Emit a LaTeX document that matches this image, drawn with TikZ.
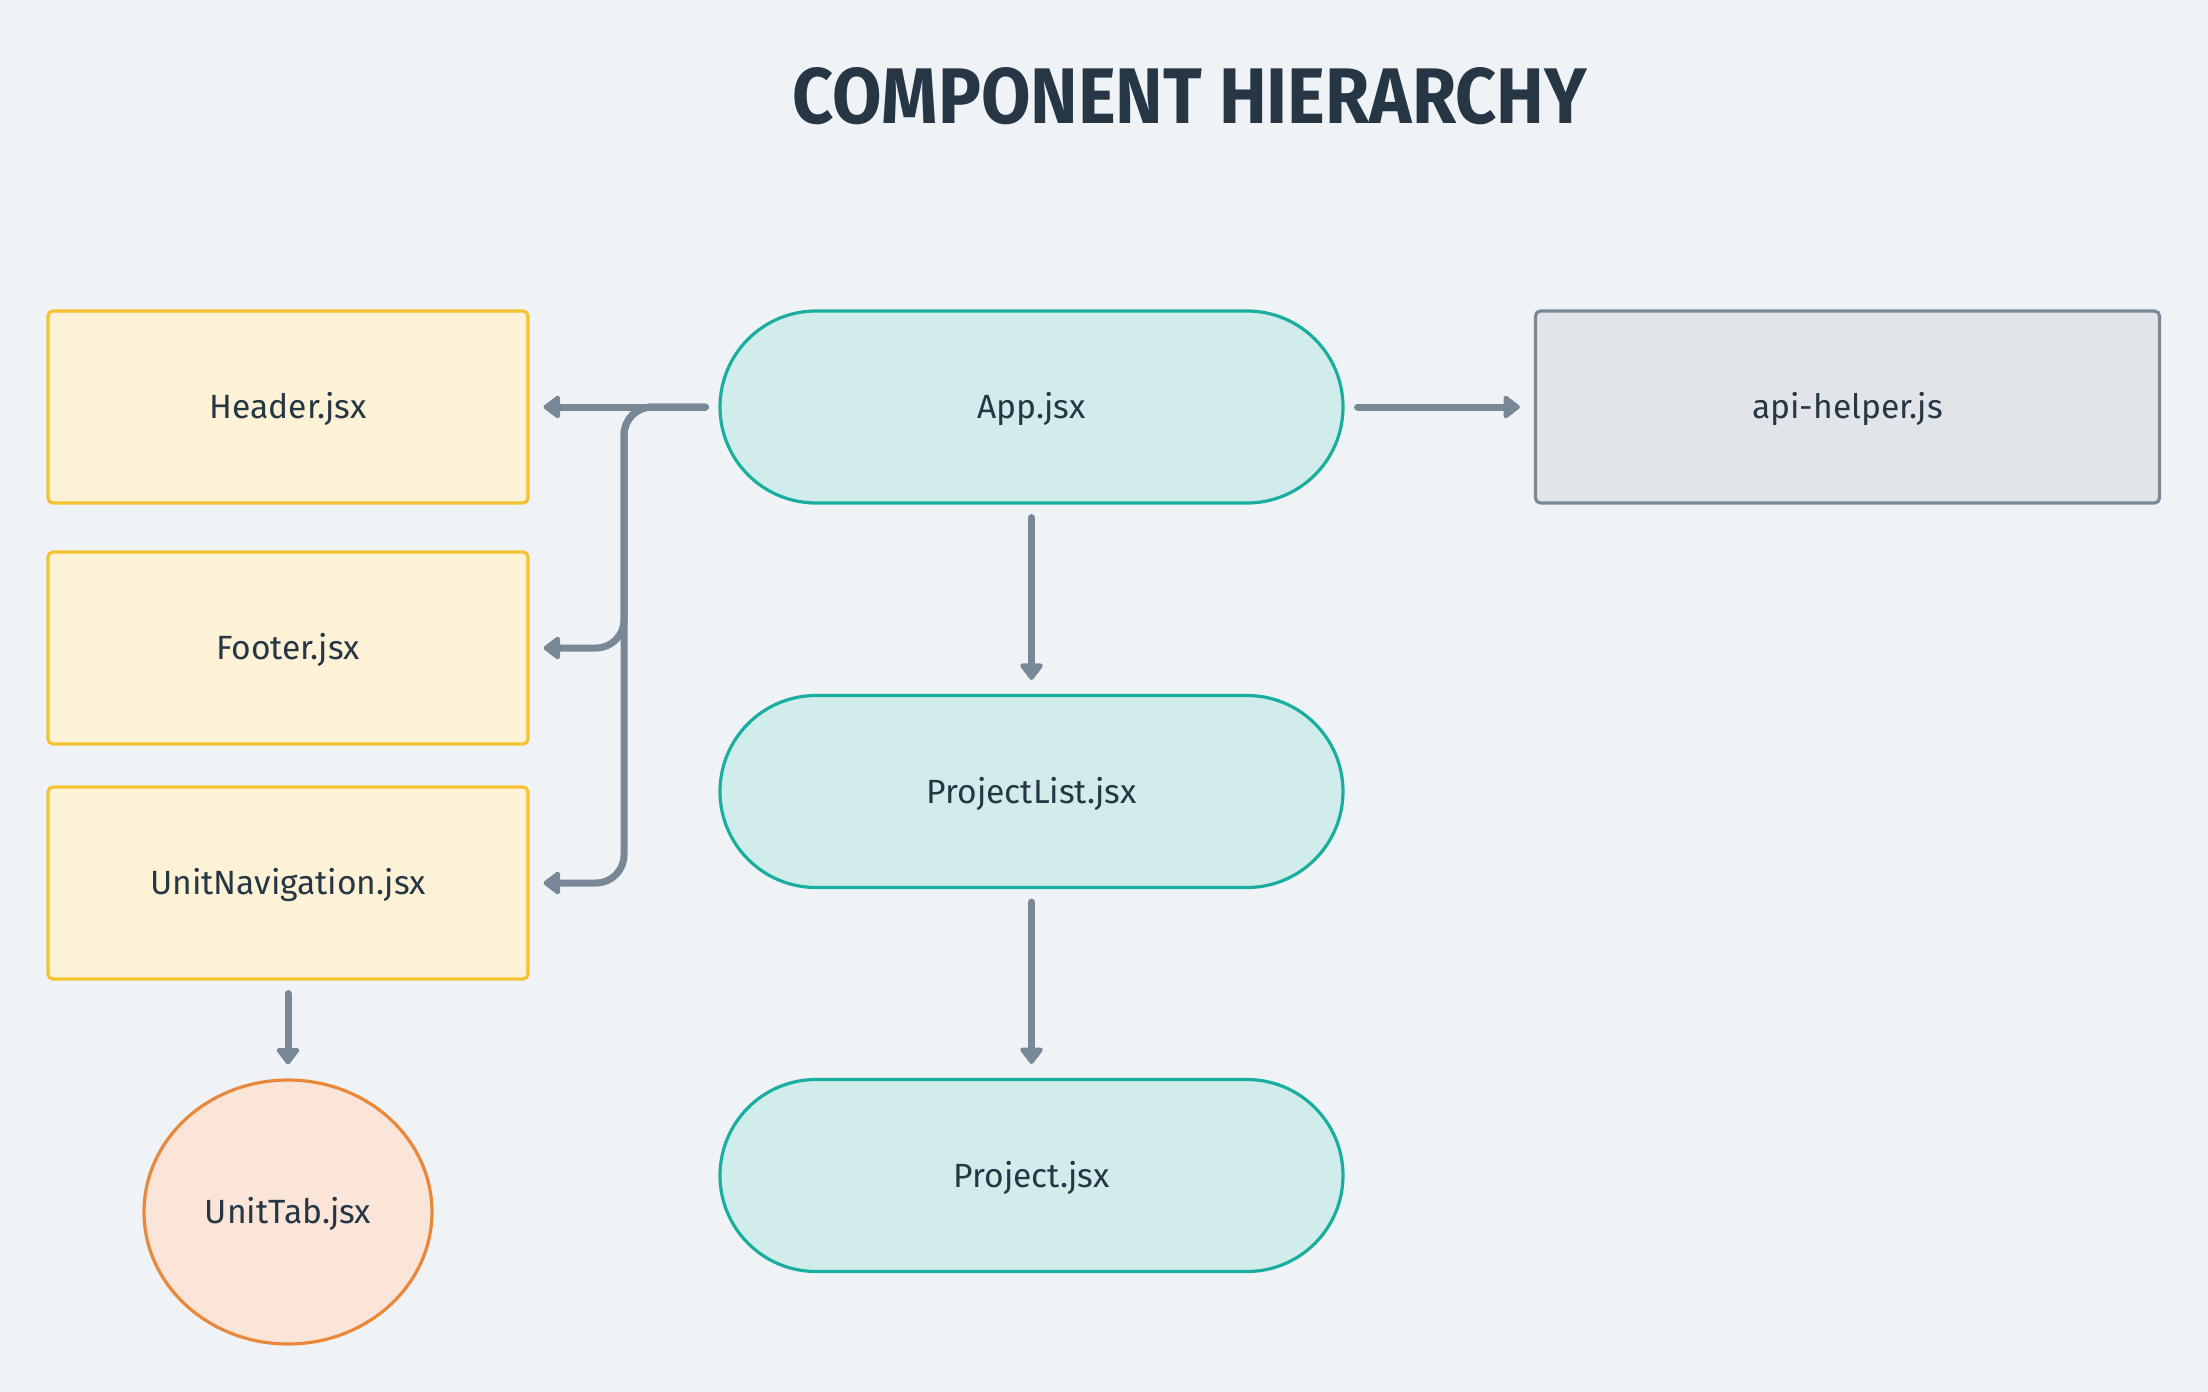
\documentclass[tikz,border=0pt]{standalone}
\usepackage{graphicx}
\usepackage{fontspec}
\setmainfont{Fira Sans}
\usetikzlibrary{arrows.meta,shapes.geometric}
\definecolor{bg}{HTML}{EFF3F6}
\definecolor{ink}{HTML}{263645}
\definecolor{yelB}{HTML}{F5C232}
\definecolor{yelF}{HTML}{FDF2D5}
\definecolor{tealB}{HTML}{1AAE9F}
\definecolor{tealF}{HTML}{D0EDEC}
\definecolor{grayB}{HTML}{788896}
\definecolor{grayF}{HTML}{E1E5E9}
\definecolor{orgB}{HTML}{E8883A}
\definecolor{orgF}{HTML}{FBE5D9}
\definecolor{arr}{HTML}{798897}
\tikzset{
  lbl/.style={text=ink, font=\fontsize{16.8pt}{20pt}\selectfont, text height=11.6pt, text depth=0pt},
  ybox/.style={lbl, draw=yelB, fill=yelF, line width=1.6pt, rounded corners=2.5pt, minimum width=240pt, minimum height=96pt, inner sep=0pt},
  gbox/.style={lbl, draw=grayB, fill=grayF, line width=1.6pt, rounded corners=2.5pt, minimum width=312pt, minimum height=96pt, inner sep=0pt},
  pill/.style={lbl, draw=tealB, fill=tealF, line width=1.6pt, rounded corners=48pt, minimum width=311.5pt, minimum height=96pt, inner sep=0pt},
  oval/.style={lbl, draw=orgB, fill=orgF, line width=1.6pt, ellipse, minimum width=144pt, minimum height=132pt, inner sep=0pt},
  conn/.style={draw=arr, line width=3.5pt, line cap=round, line join=round, -{Triangle[length=9pt,width=13pt,round]}, shorten >=7pt, shorten <=6.5pt},
}
\begin{document}
\begin{tikzpicture}[x=0.5pt,y=-0.5pt]
\fill[bg] (0,0) rectangle (2208,1392);
\useasboundingbox (0,0) rectangle (2208,1392);
\node[text=ink, inner sep=0pt] (title) at (1190,96) {\resizebox{397pt}{28pt}{\fontsize{40pt}{44pt}\selectfont\bfseries COMPONENT HIERARCHY}};
\node[ybox] (header) at (288,407) {Header.jsx};
\node[ybox] (footer) at (288,648) {Footer.jsx};
\node[ybox] (unitnav) at (288,883) {UnitNavigation.jsx};
\node[oval] (unittab) at (288,1212) {UnitTab.jsx};
\node[pill] (app) at (1031.5,407) {App.jsx};
\node[pill] (plist) at (1031.5,791.5) {ProjectList.jsx};
\node[pill] (proj) at (1031.5,1175.5) {Project.jsx};
\node[gbox] (api) at (1847.5,407) {api-helper.js};
\coordinate (trunk) at (624,407);
\draw[conn] (app.west) -- (header.east);
\draw[conn, rounded corners=14pt] (app.west) -- (trunk) |- (footer.east);
\draw[conn, rounded corners=14pt] (app.west) -- (trunk) |- (unitnav.east);
\draw[conn] (app.east) -- (api.west);
\draw[conn] (app.south) -- (plist.north);
\draw[conn] (plist.south) -- (proj.north);
\draw[conn] (unitnav.south) -- (unittab.north);
\end{tikzpicture}
\end{document}
